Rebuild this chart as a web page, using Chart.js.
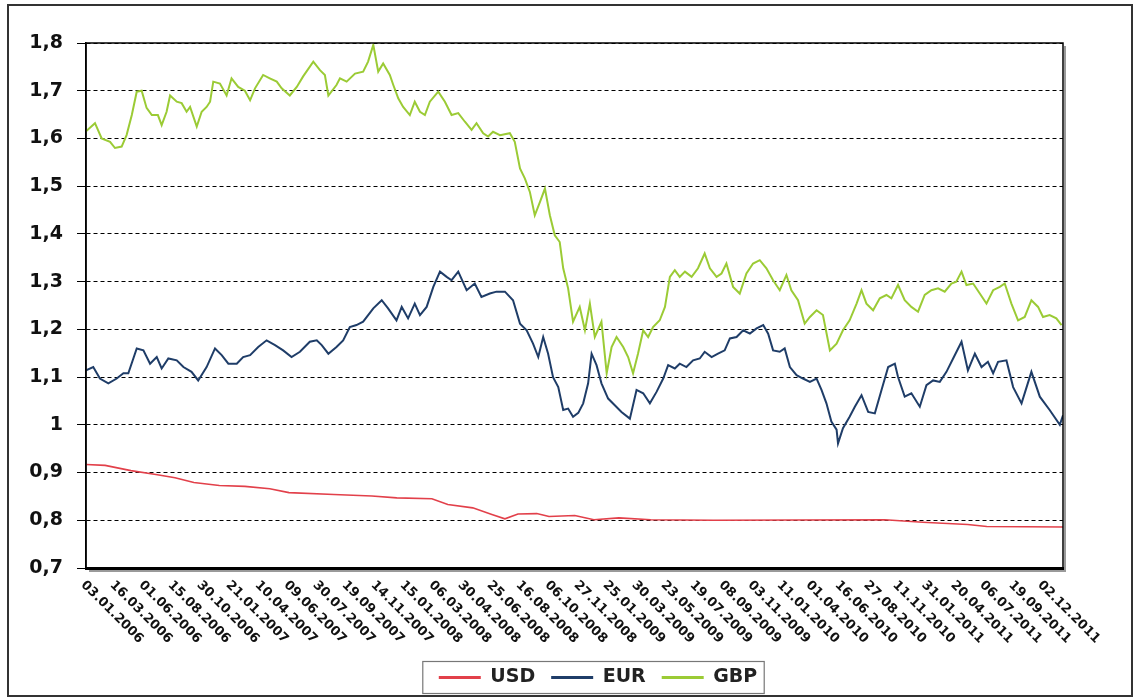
<!DOCTYPE html>
<html>
<head>
<meta charset="utf-8">
<script src="https://cdn.jsdelivr.net/npm/chart.js@4.4.1/dist/chart.umd.min.js"></script>
<style>
    body { margin: 0; background: #fff; }
    #wrap { width: 1139px; height: 699px; position: relative; }
</style>
</head>
<body>
<div id="wrap"><canvas id="chart"></canvas></div>
<script>
// x positions are in label steps (0 = 03.01.2006, 33 = 02.12.2011)
const dateLabels = ['03.01.2006', '16.03.2006', '01.06.2006', '15.08.2006', '30.10.2006', '21.01.2007',
    '10.04.2007', '09.06.2007', '30.07.2007', '19.09.2007', '14.11.2007', '15.01.2008', '06.03.2008',
    '30.04.2008', '25.06.2008', '16.08.2008', '06.10.2008', '27.11.2008', '25.01.2009', '30.03.2009',
    '23.05.2009', '19.07.2009', '08.09.2009', '03.11.2009', '11.01.2010', '01.04.2010', '16.06.2010',
    '27.08.2010', '11.11.2010', '31.01.2011', '20.04.2011', '06.07.2011', '19.09.2011', '02.12.2011']

const usd = [[0, 0.917], [0.66, 0.915], [1.55, 0.904], [2.41, 0.896], [3.07, 0.889], [3.72, 0.879],
    [4.60, 0.873], [5.48, 0.871], [6.34, 0.866], [7.00, 0.858], [8.55, 0.854], [9.86, 0.851],
    [10.72, 0.847], [11.93, 0.845], [12.48, 0.833], [13.34, 0.826], [14.00, 0.812], [14.45, 0.803],
    [14.90, 0.813], [15.55, 0.814], [15.97, 0.808], [16.86, 0.810], [17.52, 0.801], [18.38, 0.805],
    [19.48, 0.801], [21.66, 0.800], [27.55, 0.801], [28.86, 0.796], [30.41, 0.791], [31.07, 0.787],
    [33.70, 0.786]]

const eur = [[0, 1.114], [0.25, 1.121], [0.48, 1.097], [0.77, 1.087], [1.06, 1.097], [1.29, 1.108],
    [1.46, 1.108], [1.75, 1.160], [1.98, 1.156], [2.21, 1.128], [2.44, 1.142], [2.61, 1.118],
    [2.84, 1.139], [3.13, 1.135], [3.36, 1.121], [3.64, 1.111], [3.87, 1.093], [4.16, 1.121],
    [4.45, 1.160], [4.68, 1.146], [4.91, 1.128], [5.20, 1.128], [5.42, 1.142], [5.66, 1.146],
    [5.94, 1.163], [6.23, 1.177], [6.52, 1.167], [6.80, 1.156], [7.09, 1.142], [7.38, 1.153],
    [7.72, 1.174], [7.96, 1.177], [8.13, 1.167], [8.36, 1.149], [8.64, 1.163], [8.87, 1.177],
    [9.10, 1.205], [9.33, 1.209], [9.56, 1.216], [9.91, 1.244], [10.20, 1.261], [10.42, 1.244],
    [10.71, 1.219], [10.89, 1.247], [11.11, 1.223], [11.34, 1.254], [11.52, 1.230], [11.75, 1.247],
    [11.98, 1.289], [12.21, 1.321], [12.44, 1.310], [12.61, 1.303], [12.84, 1.321], [13.13, 1.282],
    [13.41, 1.296], [13.64, 1.268], [13.93, 1.275], [14.16, 1.279], [14.45, 1.279], [14.73, 1.261],
    [14.97, 1.212], [15.20, 1.198], [15.42, 1.170], [15.60, 1.142], [15.77, 1.184], [15.94, 1.149],
    [16.11, 1.100], [16.29, 1.079], [16.46, 1.031], [16.63, 1.034], [16.80, 1.017], [16.98, 1.025],
    [17.15, 1.045], [17.32, 1.087], [17.44, 1.149], [17.61, 1.125], [17.78, 1.087], [18.01, 1.055],
    [18.24, 1.041], [18.47, 1.027], [18.76, 1.013], [18.99, 1.073], [19.22, 1.066], [19.45, 1.045],
    [19.68, 1.069], [19.91, 1.097], [20.08, 1.125], [20.31, 1.118], [20.48, 1.128], [20.71, 1.121],
    [20.94, 1.135], [21.17, 1.139], [21.34, 1.153], [21.58, 1.142], [21.80, 1.149], [22.03, 1.156],
    [22.21, 1.181], [22.44, 1.184], [22.67, 1.198], [22.90, 1.191], [23.13, 1.202], [23.36, 1.209],
    [23.53, 1.191], [23.70, 1.156], [23.93, 1.153], [24.10, 1.160], [24.28, 1.121], [24.51, 1.104],
    [24.73, 1.097], [24.97, 1.090], [25.20, 1.097], [25.37, 1.073], [25.54, 1.045], [25.71, 1.007],
    [25.89, 0.990], [25.94, 0.961], [26.11, 0.993], [26.34, 1.017], [26.52, 1.038], [26.75, 1.062],
    [26.98, 1.027], [27.21, 1.024], [27.44, 1.073], [27.67, 1.121], [27.90, 1.128], [28.01, 1.100],
    [28.24, 1.059], [28.47, 1.066], [28.76, 1.038], [28.99, 1.083], [29.22, 1.093], [29.45, 1.090],
    [29.68, 1.111], [29.91, 1.139], [30.20, 1.174], [30.42, 1.114], [30.66, 1.149], [30.89, 1.121],
    [31.11, 1.132], [31.29, 1.108], [31.46, 1.132], [31.75, 1.135], [31.98, 1.079], [32.27, 1.045],
    [32.61, 1.111], [32.90, 1.059], [33.24, 1.031], [33.59, 1.000], [33.70, 1.020]]

const gbp = [[0, 1.615], [0.31, 1.632], [0.54, 1.600], [0.83, 1.593], [1.00, 1.580], [1.23, 1.583],
    [1.40, 1.607], [1.58, 1.649], [1.75, 1.698], [1.92, 1.700], [2.09, 1.664], [2.27, 1.649],
    [2.48, 1.649], [2.61, 1.628], [2.78, 1.656], [2.90, 1.690], [3.13, 1.677], [3.30, 1.674],
    [3.47, 1.656], [3.59, 1.666], [3.82, 1.625], [3.99, 1.656], [4.16, 1.666], [4.28, 1.677],
    [4.39, 1.719], [4.62, 1.715], [4.85, 1.690], [5.02, 1.726], [5.25, 1.708], [5.48, 1.700],
    [5.66, 1.680], [5.83, 1.705], [6.11, 1.733], [6.34, 1.726], [6.58, 1.719], [6.75, 1.705],
    [7.03, 1.690], [7.27, 1.708], [7.49, 1.730], [7.84, 1.761], [8.07, 1.743], [8.24, 1.733],
    [8.36, 1.690], [8.64, 1.712], [8.76, 1.726], [8.99, 1.719], [9.28, 1.736], [9.56, 1.740],
    [9.73, 1.761], [9.91, 1.796], [10.08, 1.740], [10.25, 1.757], [10.48, 1.733], [10.60, 1.712],
    [10.77, 1.684], [10.94, 1.666], [11.17, 1.649], [11.34, 1.677], [11.52, 1.656], [11.69, 1.649],
    [11.86, 1.677], [12.15, 1.698], [12.38, 1.677], [12.61, 1.649], [12.84, 1.653], [13.07, 1.635],
    [13.30, 1.618], [13.47, 1.632], [13.70, 1.611], [13.87, 1.604], [14.04, 1.614], [14.28, 1.607],
    [14.62, 1.611], [14.79, 1.593], [14.97, 1.537], [15.14, 1.516], [15.31, 1.488], [15.48, 1.439],
    [15.66, 1.467], [15.83, 1.495], [16.00, 1.439], [16.17, 1.397], [16.34, 1.383], [16.46, 1.328],
    [16.63, 1.286], [16.80, 1.216], [17.03, 1.247], [17.21, 1.198], [17.38, 1.254], [17.55, 1.184],
    [17.78, 1.216], [17.96, 1.108], [18.13, 1.163], [18.30, 1.184], [18.53, 1.163], [18.70, 1.142],
    [18.87, 1.108], [19.04, 1.149], [19.22, 1.198], [19.39, 1.184], [19.56, 1.205], [19.79, 1.219],
    [19.97, 1.247], [20.14, 1.310], [20.31, 1.324], [20.48, 1.310], [20.66, 1.321], [20.89, 1.310],
    [21.11, 1.328], [21.34, 1.359], [21.52, 1.328], [21.75, 1.310], [21.92, 1.317], [22.09, 1.338],
    [22.32, 1.289], [22.55, 1.275], [22.78, 1.317], [23.01, 1.338], [23.24, 1.345], [23.47, 1.328],
    [23.70, 1.303], [23.93, 1.282], [24.16, 1.314], [24.33, 1.282], [24.56, 1.261], [24.79, 1.212],
    [24.97, 1.226], [25.20, 1.240], [25.42, 1.230], [25.66, 1.156], [25.89, 1.170], [26.11, 1.198],
    [26.34, 1.219], [26.58, 1.254], [26.75, 1.282], [26.92, 1.254], [27.15, 1.240], [27.38, 1.265],
    [27.61, 1.272], [27.78, 1.265], [28.01, 1.293], [28.24, 1.261], [28.47, 1.247], [28.70, 1.237],
    [28.93, 1.272], [29.16, 1.282], [29.39, 1.286], [29.62, 1.279], [29.85, 1.296], [30.02, 1.300],
    [30.20, 1.321], [30.37, 1.293], [30.60, 1.296], [30.83, 1.275], [31.06, 1.254], [31.29, 1.282],
    [31.52, 1.289], [31.69, 1.296], [31.92, 1.254], [32.15, 1.219], [32.38, 1.226], [32.61, 1.261],
    [32.84, 1.247], [33.01, 1.226], [33.24, 1.230], [33.47, 1.223], [33.65, 1.209]]

const FONT = 'DejaVu Sans'
const LEGEND_PAD = 16

const framePlugin = {
    id: 'frame',
    afterLayout(chart) {
        // legend sits a bit right of centre in the original
        const lg = chart.legend
        const shift = 598 - (lg.left + lg.right) / 2
        lg.left += shift
        lg.right += shift
    },
    afterDraw(chart) {
        const {ctx, chartArea: a, scales: {x}} = chart
        ctx.save()

        // rotated date labels, reading downwards to the right
        ctx.font = `bold 13px "${FONT}"`
        ctx.fillStyle = '#111'
        ctx.textAlign = 'left'
        ctx.textBaseline = 'middle'
        dateLabels.forEach((label, i) => {
            ctx.save()
            ctx.translate(x.getPixelForValue(i) - 3, a.bottom + 15)
            ctx.rotate(Math.PI / 4)
            ctx.fillText(label, 0, 0)
            ctx.restore()
        })

        // plot frame + shadow
        ctx.strokeStyle = '#000'
        ctx.lineWidth = 1.5
        ctx.strokeRect(a.left, a.top, a.width, a.height)
        ctx.strokeStyle = '#9a9a9a'
        ctx.lineWidth = 2
        ctx.beginPath()
        ctx.moveTo(a.right + 2, a.top + 3)
        ctx.lineTo(a.right + 2, a.bottom + 3)
        ctx.lineTo(a.left + 3, a.bottom + 3)
        ctx.stroke()

        // legend box
        const boxes = chart.legend.legendHitBoxes
        const first = boxes[0]
        const last = boxes[boxes.length - 1]
        const cy = first.top + first.height / 2
        const left = first.left - 16
        const right = last.left + last.width + 7
        ctx.strokeStyle = '#777'
        ctx.lineWidth = 1.2
        ctx.strokeRect(left, cy - 16, right - left, 32)

        // outer picture border
        ctx.strokeStyle = '#333'
        ctx.lineWidth = 2
        ctx.strokeRect(8, 5, 1124, 691)
        ctx.restore()
    }
}

const chart = new Chart(document.getElementById('chart'), {
    type: 'line',
    data: {
        datasets: [
            { label: 'USD', data: usd, borderColor: '#e2404a', backgroundColor: '#e2404a', borderWidth: 1.6 },
            { label: 'EUR', data: eur, borderColor: '#1f3d68', backgroundColor: '#1f3d68', borderWidth: 2 },
            { label: 'GBP', data: gbp, borderColor: '#9bcb35', backgroundColor: '#9bcb35', borderWidth: 2 }
        ]
    },
    options: {
        responsive: true,
        maintainAspectRatio: false,
        animation: false,
        layout: { padding: { left: 0, right: 76, top: 43, bottom: 2 } },
        elements: { point: { radius: 0 }, line: { tension: 0 } },
        scales: {
            x: {
                type: 'linear',
                min: 0,
                max: 33.7,
                grid: { display: false },
                ticks: { display: false },
                border: { color: '#000', width: 3 },
                afterFit: scale => { scale.height = 84 }
            },
            y: {
                min: 0.7,
                max: 1.8,
                ticks: {
                    stepSize: 0.1,
                    padding: 14,
                    color: '#111',
                    font: { family: FONT, weight: 'bold', size: 19 },
                    callback: v => String(Math.round(v * 10) / 10).replace('.', ',')
                },
                grid: { color: '#000', lineWidth: 1, tickLength: 9, tickColor: '#000' },
                border: { color: '#000', width: 1.5, dash: [4, 3] },
                afterFit: scale => { scale.width = 86 }
            }
        },
        plugins: {
            tooltip: { enabled: false },
            legend: {
                position: 'bottom',
                labels: {
                    boxWidth: 42,
                    boxHeight: 3,
                    padding: LEGEND_PAD,
                    color: '#222',
                    font: { family: FONT, weight: 'bold', size: 19 },
                    generateLabels: c => Chart.defaults.plugins.legend.labels.generateLabels(c).map(item => {
                        item.lineWidth = 0
                        item.fillStyle = item.strokeStyle
                        return item
                    })
                }
            }
        }
    },
    plugins: [framePlugin]
})
</script>
</body>
</html>
